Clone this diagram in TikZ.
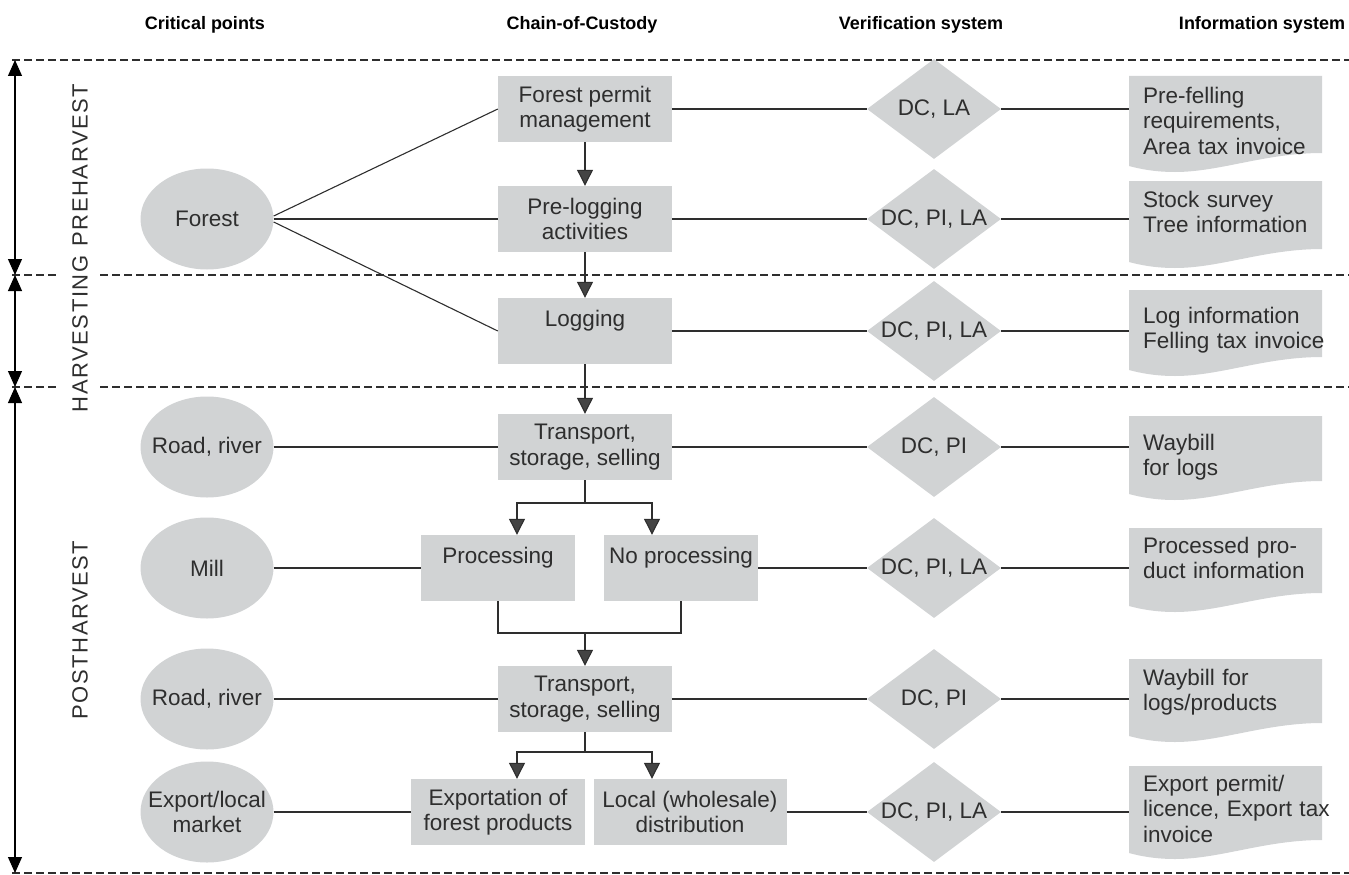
\documentclass[tikz,border=0pt]{standalone}
\usepackage{fontspec}
\setmainfont{Liberation Sans}
\usetikzlibrary{shapes.geometric,arrows.meta}

\definecolor{boxgray}{HTML}{D1D3D4}
\definecolor{inkgray}{HTML}{2E2E2E}
\definecolor{tipgray}{HTML}{444444}

\newcommand{\bodyfont}{\fontsize{22.5}{25.5}\selectfont}

\tikzset{
	head/.style={font=\fontsize{18}{21}\selectfont\bfseries, text=black},
	phase/.style={rotate=90, font=\fontsize{22}{26}\selectfont\addfontfeature{LetterSpace=7}, text=inkgray},
	crit/.style={shape=ellipse, fill=boxgray, minimum width=133pt, minimum height=101pt, inner sep=-12pt, align=center, font=\bodyfont, text=inkgray},
	coc/.style={shape=rectangle, fill=boxgray, minimum width=174pt, minimum height=66pt, inner sep=0pt, align=center, font=\bodyfont, text=inkgray},
	verif/.style={shape=diamond, fill=boxgray, minimum width=134pt, minimum height=100pt, aspect=1.34, inner sep=0pt, font=\bodyfont, text=inkgray},
	info/.style={anchor=base west, text width=230pt, inner xsep=14pt, inner ysep=0pt, align=left, font=\bodyfont, text=inkgray},
	link/.style={draw=inkgray, line width=1.1pt},
	flow/.style={link, -{Triangle[width=16pt,length=16pt,fill=tipgray]}},
	span/.style={draw=black, line width=1.1pt, {Triangle[width=14pt,length=16pt]}-{Triangle[width=14pt,length=16pt]}},
	sep/.style={draw=inkgray, line width=1.2pt, dash pattern=on 8pt off 4pt},
}

% info sheet: name, top, height, first baseline, text
\newcommand{\infosheet}[5]{%
	\fill[boxgray] (1129,#2) -- (1322,#2) -- (1322,{#2+#3})
		.. controls (1265,{#2+#3}) and (1220,{#2+#3+19}) .. (1175,{#2+#3+19})
		.. controls (1155,{#2+#3+19}) and (1140,{#2+#3+16}) .. (1129,{#2+#3+13}) -- cycle;
	\node[info] (#1) at (1129,#4) {#5};
}

\begin{document}
\begin{tikzpicture}[x=1pt, y=-1pt]
	\useasboundingbox (0,0) rectangle (1349,875);
	
	% column heads
	\node[head] (hcrit) at (205,25) {Critical points};
	\node[head] (hcoc) at (582,25) {Chain-of-Custody};
	\node[head] (hver) at (921,25) {Verification system};
	\node[head] (hinf) at (1262,25) {Information system};
	
	% phase separators
	\draw[sep] (12,60) -- (1349,60);
	\draw[sep] (12,275) -- (58,275);
	\draw[sep] (100,275) -- (1349,275);
	\draw[sep] (12,387) -- (58,387);
	\draw[sep] (100,387) -- (1349,387);
	\draw[sep] (12,873) -- (1349,873);
	
	\coordinate (p0) at (15,60);
	\coordinate (p1) at (15,275);
	\coordinate (p2) at (15,387);
	\coordinate (p3) at (15,873);
	\draw[span] (p0) -- (p1);
	\draw[span] (p1) -- (p2);
	\draw[span] (p2) -- (p3);
	
	\node[phase] (pre) at (80,165) {PREHARVEST};
	\node[phase] (harv) at (80,334) {HARVESTING};
	\node[phase] (post) at (80,630) {POSTHARVEST};
	
	% critical points
	\node[crit] (forest) at (207,219) {Forest};
	\node[crit] (road1) at (207,447) {Road, river};
	\node[crit] (mill) at (207,568) {Mill};
	\node[crit] (road2) at (207,699) {Road, river};
	\node[crit, inner sep=-17pt] (market) at (207,812) {Export/local\\market};
	
	% chain of custody
	\node[coc] (permit) at (585,109) {Forest permit\\management};
	\node[coc] (prelog) at (585,219) {Pre-logging\\activities};
	\node[coc] (logging) at (585,331) {Logging\\\phantom{x}};
	\node[coc] (trans1) at (585,447) {Transport,\\storage, selling};
	\node[coc, minimum width=154pt] (proc) at (498,568) {Processing\\\phantom{x}};
	\node[coc, minimum width=154pt] (noproc) at (681,568) {No processing\\\phantom{x}};
	\node[coc] (trans2) at (585,699) {Transport,\\storage, selling};
	\node[coc] (export) at (498,812) {Exportation of\\forest products};
	\node[coc, minimum width=193pt] (local) at (690,812) {Local (wholesale)\\distribution};
	
	% verification
	\node[verif] (v1) at (934,109) {DC, LA};
	\node[verif] (v2) at (934,219) {DC, PI, LA};
	\node[verif] (v3) at (934,331) {DC, PI, LA};
	\node[verif] (v4) at (934,447) {DC, PI};
	\node[verif] (v5) at (934,568) {DC, PI, LA};
	\node[verif] (v6) at (934,699) {DC, PI};
	\node[verif] (v7) at (934,812) {DC, PI, LA};
	
	% information
	\infosheet{i1}{76}{77}{103}{Pre-felling\\requirements,\\Area tax invoice}
	\infosheet{i2}{181}{68}{207}{Stock survey\\Tree information}
	\infosheet{i3}{290}{67}{323}{Log information\\Felling tax invoice}
	\infosheet{i4}{416}{65}{450}{Waybill\\for logs}
	\infosheet{i5}{528}{65}{553}{Processed pro-\\duct information}
	\infosheet{i6}{659}{64}{685}{Waybill for\\logs/products}
	\infosheet{i7}{766}{74}{791}{Export permit/\\licence, Export tax\\invoice}
	
	% forest links
	\draw[link] ([yshift=3pt]forest.east) -- (permit.west);
	\draw[link] (forest.east) -- (prelog.west);
	\draw[link] ([yshift=-3pt]forest.east) -- (logging.west);
	
	\draw[link] (road1) -- (trans1);
	\draw[link] (mill) -- (proc);
	\draw[link] (road2) -- (trans2);
	\draw[link] (market) -- (export);
	
	% main flow
	\path[flow] (permit) edge (prelog);
	\path[flow] (prelog) edge (logging);
	\path[flow] (logging) edge (trans1);
	
	\coordinate (b1) at (585,503);
	\draw[link] (trans1.south) -- (b1);
	\draw[flow] (b1) -| ([xshift=19pt]proc.north);
	\draw[flow] (b1) -| ([xshift=-29pt]noproc.north);
	
	\coordinate (j1) at (585,633);
	\draw[link] (proc.south) |- (j1) -| (noproc.south);
	\draw[flow] (j1) -- (trans2.north);
	
	\coordinate (b2) at (585,752);
	\draw[link] (trans2.south) -- (b2);
	\draw[flow] (b2) -| ([xshift=19pt]export.north);
	\draw[flow] (b2) -| ([xshift=-38pt]local.north);
	
	% to verification and information
	\draw[link] (permit) -- (v1) -- (v1 -| i1.west);
	\draw[link] (prelog) -- (v2) -- (v2 -| i2.west);
	\draw[link] (logging) -- (v3) -- (v3 -| i3.west);
	\draw[link] (trans1) -- (v4) -- (v4 -| i4.west);
	\draw[link] (noproc) -- (v5) -- (v5 -| i5.west);
	\draw[link] (trans2) -- (v6) -- (v6 -| i6.west);
	\draw[link] (local) -- (v7) -- (v7 -| i7.west);
	
\end{tikzpicture}
\end{document}
